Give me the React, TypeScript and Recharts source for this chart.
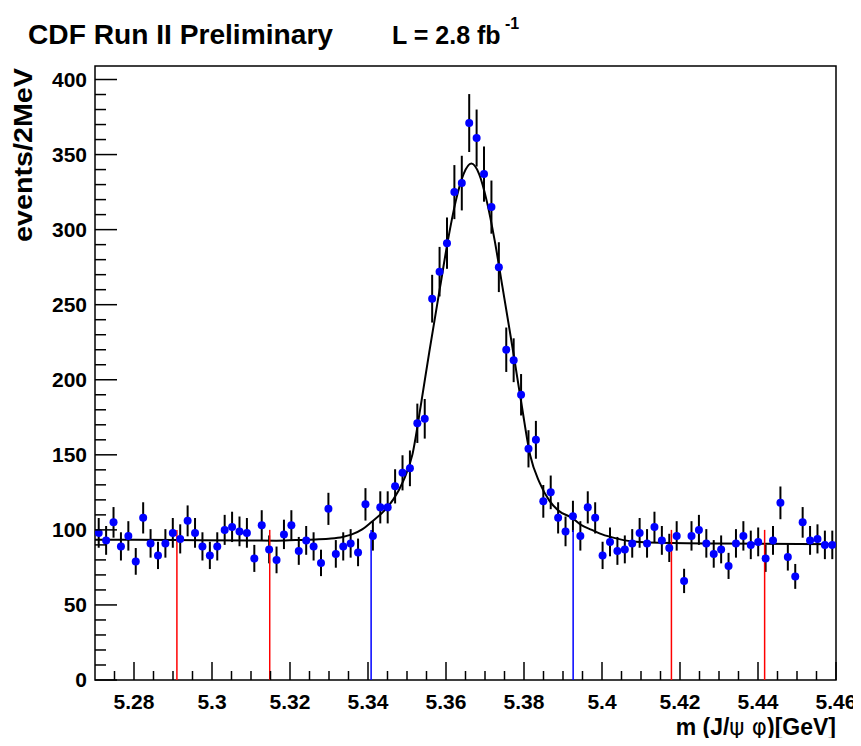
import { ComposedChart, Scatter, Line, XAxis, YAxis, ErrorBar, ReferenceLine, ReferenceArea } from "recharts";

// histogram: 100 bins between 5.27 and 5.46 GeV
const binLow = 5.27;
const binWidth = 0.0019;

const counts = [
  98, 93, 105, 89, 96, 79, 108, 91, 83, 91,
  98, 94, 106, 98, 89, 83, 89, 100, 102, 99,
  98, 81, 103, 87, 80, 97, 103, 86, 93, 89,
  78, 114, 84, 89, 91, 85, 117, 96, 115, 115,
  129, 138, 141, 171, 174, 254, 272, 291, 325, 331,
  371, 361, 337, 315, 275, 220, 213, 190, 154, 160,
  119, 125, 108, 99, 109, 96, 115, 108, 83, 92,
  86, 87, 91, 98, 91, 102, 93, 88, 96, 66,
  96, 100, 91, 84, 87, 76, 91, 96, 90, 92,
  81, 93, 118, 82, 69, 105, 93, 94, 90, 90,
];

const errors = [
  9.9, 9.6, 10.2, 9.4, 9.8, 8.9, 10.4, 9.5, 9.1, 9.5,
  9.9, 9.7, 10.3, 9.9, 9.4, 9.1, 9.4, 10, 10.1, 9.9,
  9.9, 9, 10.1, 9.3, 8.9, 9.8, 10.1, 9.3, 9.6, 9.4,
  8.8, 10.7, 9.2, 9.4, 9.5, 9.2, 10.8, 9.8, 10.7, 10.7,
  11.4, 11.7, 11.9, 13.1, 13.2, 15.9, 16.5, 17.1, 18, 18.2,
  19.3, 19, 18.4, 17.7, 16.6, 14.8, 14.6, 13.8, 12.4, 12.6,
  10.9, 11.2, 10.4, 9.9, 10.4, 9.8, 10.7, 10.4, 9.1, 9.6,
  9.3, 9.3, 9.5, 9.9, 9.5, 10.1, 9.6, 9.4, 9.8, 8.1,
  9.8, 10, 9.5, 9.2, 9.3, 8.7, 9.5, 9.8, 9.5, 9.6,
  9, 9.6, 10.9, 9.1, 8.3, 10.2, 9.6, 9.7, 9.5, 9.5,
];

// fitted curve
const fitMass = [
  5.27, 5.29, 5.31, 5.3165, 5.3215, 5.3265, 5.3305, 5.3335, 5.3357, 5.3385,
  5.3409, 5.344, 5.3465, 5.349, 5.3514, 5.3535, 5.3557, 5.3585, 5.3605, 5.3625,
  5.3645, 5.3665, 5.3685, 5.3705, 5.3725, 5.3745, 5.3773, 5.3795, 5.3816, 5.384,
  5.3865, 5.389, 5.3923, 5.3945, 5.3974, 5.3995, 5.4026, 5.4077, 5.418, 5.43, 5.46,
];
const fitValue = [
  93.5, 93.2, 92.9, 92.8, 93.2, 93.6, 94.2, 95.3, 96.8, 100.3,
  105.3, 112.3, 120.3, 132.3, 150.3, 182.3, 218.3, 262, 293, 319,
  337, 344, 337, 318.5, 292.5, 261.5, 217.5, 181.5, 149.5, 131.5,
  119.5, 112.5, 108, 103.5, 100, 97.5, 95, 92.3, 91.2, 90.9, 90.5,
];

// signal window (blue) and sideband (red) markers
const windowMass = [5.291, 5.3148, 5.3408, 5.3926, 5.4178, 5.4417];
const windowColor = ["#ff0000", "#ff0000", "#0000ff", "#0000ff", "#ff0000", "#ff0000"];
const windowTop = 100;

const xLabels = [5.28, 5.3, 5.32, 5.34, 5.36, 5.38, 5.4, 5.42, 5.44, 5.46];
const yLabels = [0, 50, 100, 150, 200, 250, 300, 350, 400];

const xTicks = Array.from({ length: 38 }, (_, k) => +(5.275 + k * 0.005).toFixed(3));
const yTicks = Array.from({ length: 41 }, (_, k) => k * 10);

const bins = counts.map((c, i) => ({
  mass: +(binLow + (i + 0.5) * binWidth).toFixed(5),
  count: c,
  err: errors[i],
}));
const fit = fitMass.map((m, i) => ({ mass: m, value: fitValue[i] }));

const font = "'Liberation Sans', Arial, Helvetica, sans-serif";

const XTick = (props: any) => {
  const { x, y, payload } = props;
  const v = payload.value;
  const major = xLabels.some((l) => Math.abs(l - v) < 1e-6);
  return (
    <g>
      <line x1={x} x2={x} y1={y} y2={y - (major ? 18 : 9)} stroke="#000" strokeWidth={1.5} />
      {major && (
        <text x={x} y={y + 29} textAnchor="middle" fontSize={21} fontWeight="bold" fontFamily={font} fill="#000">
          {String(+v.toFixed(2))}
        </text>
      )}
    </g>
  );
};

const YTick = (props: any) => {
  const { x, y, payload } = props;
  const v = payload.value;
  const major = yLabels.includes(v);
  return (
    <g>
      <line x1={x} x2={x + (major ? 22 : 11)} y1={y} y2={y} stroke="#000" strokeWidth={1.5} />
      {major && (
        <text x={x - 8} y={y + 7} textAnchor="end" fontSize={21} fontWeight="bold" fontFamily={font} fill="#000">
          {v}
        </text>
      )}
    </g>
  );
};

const Marker = (props: any) => <circle cx={props.cx} cy={props.cy} r={4} fill="#0000ff" />;

export default function App() {
  return (
    <div style={{ position: "relative", width: 853, height: 730 }}>
      <ComposedChart width={853} height={730} margin={{ top: 58, right: 25, bottom: 0, left: 0 }}>
        <XAxis
          dataKey="mass"
          type="number"
          domain={[5.27, 5.46]}
          ticks={xTicks}
          interval={0}
          allowDataOverflow
          axisLine={false}
          tickLine={false}
          tickSize={0}
          tickMargin={0}
          height={58}
          tick={<XTick />}
        />
        <YAxis
          type="number"
          domain={[0, 409]}
          ticks={yTicks}
          interval={0}
          allowDataOverflow
          axisLine={false}
          tickLine={false}
          tickSize={0}
          tickMargin={0}
          width={87}
          tick={<YTick />}
        />
        <ReferenceArea x1={5.27} x2={5.46} y1={0} y2={409} fill="none" fillOpacity={0} stroke="#000" strokeWidth={1.5} />
        <Scatter data={bins} dataKey="count" shape={<Marker />} isAnimationActive={false}>
          <ErrorBar dataKey="err" direction="y" width={0} stroke="#000" strokeWidth={2} />
        </Scatter>
        <Line data={fit} dataKey="value" type="monotone" dot={false} stroke="#000" strokeWidth={2} isAnimationActive={false} />
        {windowMass.map((m, i) => (
          <ReferenceLine
            key={m}
            segment={[{ x: m, y: 0 }, { x: m, y: windowTop }]}
            stroke={windowColor[i]}
            strokeWidth={1.5}
          />
        ))}
      </ComposedChart>
      <svg width={853} height={738} style={{ position: "absolute", left: 0, top: 0, pointerEvents: "none" }}>
        <text x={20} y={36} fontSize={28} fontWeight="bold" fontFamily={font} textLength={305} lengthAdjust="spacingAndGlyphs">
          CDF Run II Preliminary
        </text>
        <text x={384} y={36} fontSize={25} fontWeight="bold" fontFamily={font}>
          L = 2.8 fb
        </text>
        <text x={497} y={21} fontSize={16} fontWeight="bold" fontFamily={font}>
          -1
        </text>
        <text
          transform="translate(24,147) rotate(-90)"
          textAnchor="middle"
          fontSize={25}
          fontWeight="bold"
          fontFamily={font}
          textLength={174}
          lengthAdjust="spacingAndGlyphs"
        >
          events/2MeV
        </text>
        <text x={828} y={727} textAnchor="end" fontSize={23} fontWeight="bold" fontFamily={font}>
          m (J/<tspan fontWeight="normal" fontFamily="'DejaVu Sans', sans-serif">ψ φ</tspan>)[GeV]
        </text>
      </svg>
    </div>
  );
}
